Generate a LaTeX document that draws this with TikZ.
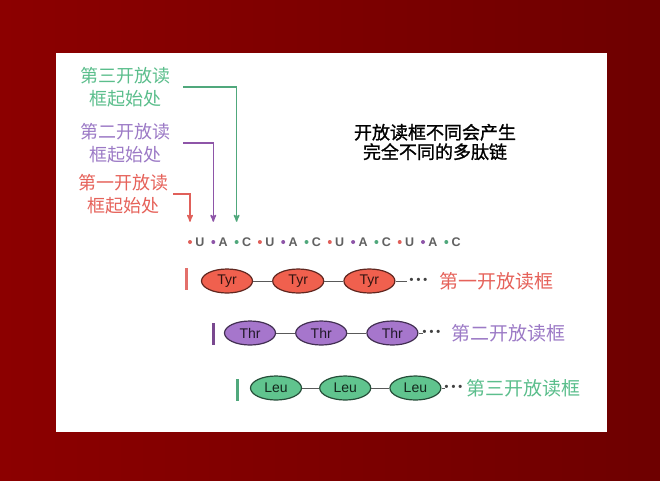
\documentclass[tikz,border=0pt]{standalone}
\usepackage{fontspec}
\setmainfont{Liberation Sans}
\newfontfamily\cjk{Noto Sans CJK SC}
\newfontfamily\cjkbold[FakeBold=1.2]{Noto Sans CJK SC}
\usetikzlibrary{arrows,positioning,shapes.geometric}

\definecolor{bgleft}{HTML}{8C0000}
\definecolor{bgright}{HTML}{6E0000}
\definecolor{frame0}{HTML}{E0605A}
\definecolor{frame1}{HTML}{8E55A8}
\definecolor{frame2}{HTML}{50A87C}
\definecolor{tyrfill}{HTML}{F0604E}
\definecolor{thrfill}{HTML}{A676CC}
\definecolor{leufill}{HTML}{60C48E}
\definecolor{orfred}{HTML}{E6625A}
\definecolor{orfpurple}{HTML}{9C7AC6}
\definecolor{orfgreen}{HTML}{5BBE8C}

\begin{document}
\begin{tikzpicture}[x=1pt,y=-1pt,>=stealth',
    lbl/.style={font=\cjk\fontsize{18}{23}\selectfont,align=center,inner sep=2pt},
    cue/.style={->,line width=1.4pt},
    nt/.style={circle,inner sep=0pt,minimum size=4pt},
    base/.style={font=\bfseries\fontsize{12.5}{14}\selectfont,text=black!62,inner sep=0pt},
    amino/.style={ellipse,draw=#1!40!black,fill=#1,line width=1.2pt,
        minimum width=51pt,minimum height=24pt,inner sep=0pt,
        font=\fontsize{14}{16}\selectfont,text=#1!20!black},
    bar/.style={rectangle,inner sep=0pt,minimum width=3pt,minimum height=22pt},
    more/.style={font=\bfseries\fontsize{11}{11}\selectfont,text=black!75,inner sep=0pt},
    orf/.style={font=\cjk\fontsize{19}{21}\selectfont,inner sep=0pt},
    link/.style={line width=1pt,draw=black!65}]

  \useasboundingbox (0,0) rectangle (660,480);
  \fill[left color=bgleft,right color=bgright] (0,0) rectangle (660,480);
  \fill[white] (56,53) rectangle (607,432);

  % start labels
  \node[lbl,text=orfgreen]  (lab3) at (125,87)  {第三开放读\\框起始处};
  \node[lbl,text=orfpurple] (lab2) at (125,143) {第二开放读\\框起始处};
  \node[lbl,text=orfred]    (lab1) at (123,194) {第一开放读\\框起始处};

  \node[font=\cjkbold\fontsize{18}{19.5}\selectfont,align=center] (note)
      at (435,142) {开放读框不同会产生\\完全不同的多肽链};

  % mRNA
  \foreach \b [count=\i from 0] in {U,A,C,U,A,C,U,A,C,U,A,C} {
    \pgfmathtruncatemacro\k{mod(\i,3)}
    \node[nt,fill=frame\k] (d\i) at (190+23.3*\i,242) {};
    \node[base,right=3pt of d\i] (b\i) {\b};
  }

  \draw[cue,draw=frame0,shorten <=3pt,shorten >=18pt]  (lab1.east) -| (d0);
  \draw[cue,draw=frame1,shorten <=11pt,shorten >=18pt] (lab2.east) -| (d1);
  \draw[cue,draw=frame2,shorten <=11pt,shorten >=18pt] (lab3.east) -| (d2);

  % first frame
  \node[bar,fill=frame0!90!white] (bar1) at (186,279) {};
  \node[amino=tyrfill] (tyr1) at (227,281) {Tyr};
  \node[amino=tyrfill,right=19pt of tyr1] (tyr2) {Tyr};
  \node[amino=tyrfill,right=19pt of tyr2] (tyr3) {Tyr};
  \node[more,right=14pt of tyr3] (dots1) {\textbullet\hspace{3pt}\textbullet\hspace{3pt}\textbullet};
  \node[orf,text=orfred,right=12pt of dots1] (orf1) {第一开放读框};
  \draw[link] (tyr1) -- (tyr2) (tyr2) -- (tyr3) (tyr3.east) -- ++(11,0);

  % second frame
  \node[bar,fill=frame1!85!black] (bar2) at (213,334) {};
  \node[amino=thrfill] (thr1) at (250,333) {Thr};
  \node[amino=thrfill,right=19pt of thr1] (thr2) {Thr};
  \node[amino=thrfill,right=19pt of thr2] (thr3) {Thr};
  \node[more,right=4pt of thr3] (dots2) {\textbullet\hspace{3pt}\textbullet\hspace{3pt}\textbullet};
  \node[orf,text=orfpurple,right=11pt of dots2] (orf2) {第二开放读框};
  \draw[link] (thr1) -- (thr2) (thr2) -- (thr3) (thr3) -- (dots2);

  % third frame
  \node[bar,fill=frame2] (bar3) at (237,390) {};
  \node[amino=leufill] (leu1) at (276,388) {Leu};
  \node[amino=leufill,right=17pt of leu1] (leu2) {Leu};
  \node[amino=leufill,right=18pt of leu2] (leu3) {Leu};
  \node[more,right=3pt of leu3] (dots3) {\textbullet\hspace{3pt}\textbullet\hspace{3pt}\textbullet};
  \node[orf,text=orfgreen,right=4pt of dots3] (orf3) {第三开放读框};
  \draw[link] (leu1) -- (leu2) (leu2) -- (leu3) (leu3) -- (dots3);

\end{tikzpicture}
\end{document}
